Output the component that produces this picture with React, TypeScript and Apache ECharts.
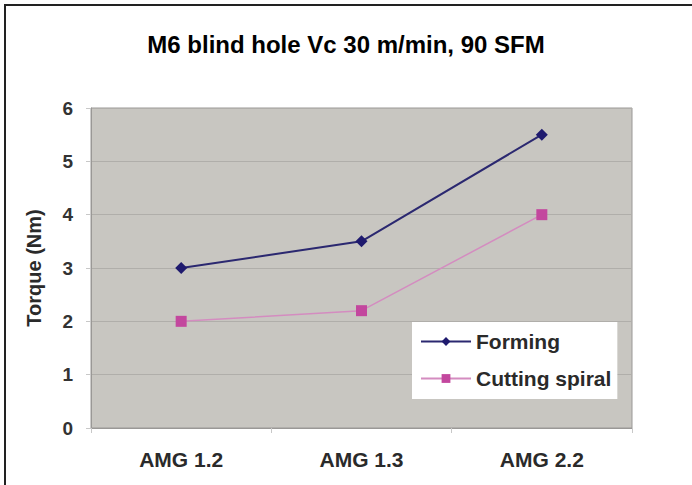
import React, { useEffect, useRef } from "react";
import * as echarts from "echarts";

const categories = ["AMG 1.2", "AMG 1.3", "AMG 2.2"];
const forming = [3, 3.5, 5.5];
const cuttingSpiral = [2, 2.2, 4];
const yTicks = [0, 1, 2, 3, 4, 5, 6];

const FONT = "Liberation Sans";

export default function App() {
  const ref = useRef<HTMLDivElement>(null);
  useEffect(() => {
    const chart = echarts.init(ref.current!, null, { renderer: "svg" });
    chart.setOption({
      animation: false,
      backgroundColor: "#ffffff",
      title: {
        text: "M6 blind hole Vc 30 m/min, 90 SFM",
        left: "center",
        top: 27,
        textStyle: { fontFamily: FONT, fontWeight: "bold", fontSize: 24, color: "#000" },
      },
      graphic: [
        {
          type: "rect",
          shape: { x: 5, y: 5, width: 700, height: 500 },
          style: { fill: "none", stroke: "#222", lineWidth: 2 },
          silent: true,
        },
      ],
      grid: {
        left: 91,
        top: 108,
        width: 541,
        height: 320,
        show: true,
        backgroundColor: "#c8c6c1",
        borderColor: "#9a9896",
        borderWidth: 1,
      },
      legend: {
        orient: "vertical",
        left: 412,
        top: 322,
        itemGap: 16,
        padding: [9, 6, 10, 8],
        backgroundColor: "#ffffff",
        itemWidth: 50,
        itemHeight: 11,
        textStyle: { fontFamily: FONT, fontWeight: "bold", fontSize: 21, color: "#2a2a2a" },
        data: ["Forming", "Cutting spiral"],
      },
      xAxis: {
        type: "category",
        data: categories,
        boundaryGap: true,
        axisLine: { lineStyle: { color: "#9a9896" } },
        axisTick: { show: true, length: 5, lineStyle: { color: "#c8c8c8" } },
        axisLabel: { fontFamily: FONT, fontWeight: "bold", fontSize: 21, color: "#2a2a2a", margin: 21 },
      },
      yAxis: {
        type: "value",
        min: 0,
        max: 6,
        interval: 1,
        name: "Torque (Nm)",
        nameLocation: "middle",
        nameGap: 47,
        nameTextStyle: { fontFamily: FONT, fontWeight: "bold", fontSize: 20, color: "#2a2a2a" },
        axisLine: { show: true, lineStyle: { color: "#9a9896" } },
        axisTick: { show: true, length: 5, lineStyle: { color: "#c8c8c8" } },
        axisLabel: {
          fontFamily: FONT,
          fontWeight: "bold",
          fontSize: 19,
          color: "#333",
          margin: 18,
          formatter: (v: number) => (yTicks.includes(v) ? String(v) : ""),
        },
        splitLine: { lineStyle: { color: "#b0aeaa", width: 1 } },
      },
      series: [
        {
          name: "Forming",
          type: "line",
          data: forming,
          symbol: "diamond",
          symbolSize: 12,
          lineStyle: { color: "#2b2870", width: 2 },
          itemStyle: { color: "#1f1a6e" },
        },
        {
          name: "Cutting spiral",
          type: "line",
          data: cuttingSpiral,
          symbol: "rect",
          symbolSize: 11,
          lineStyle: { color: "#d48cc0", width: 1.5 },
          itemStyle: { color: "#c3479e" },
        },
      ],
    });
    return () => chart.dispose();
  }, []);
  return <div ref={ref} style={{ position: "fixed", left: 0, top: 0, width: 692, height: 485 }} />;
}
